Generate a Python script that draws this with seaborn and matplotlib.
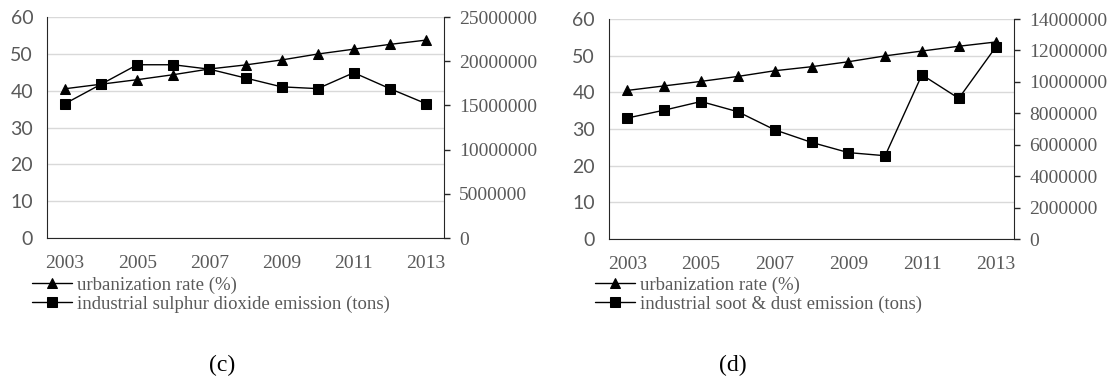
import numpy as np
import pandas as pd
import matplotlib
matplotlib.use("Agg")
import matplotlib.pyplot as plt
import seaborn as sns

# data
years = [2003, 2004, 2005, 2006, 2007, 2008, 2009, 2010, 2011, 2012, 2013]
urban_rate = [40.53, 41.76, 42.99, 44.34, 45.89, 46.99, 48.34, 49.95, 51.27, 52.57, 53.73]
so2_emission = [15.2e6, 17.4e6, 19.6e6, 19.6e6, 19.1e6, 18.1e6, 17.1e6, 16.9e6, 18.7e6, 16.9e6, 15.2e6]
soot_emission = [7.7e6, 8.2e6, 8.75e6, 8.1e6, 6.95e6, 6.15e6, 5.5e6, 5.3e6, 10.45e6, 8.95e6, 12.2e6]

panels = [
    ("industrial sulphur dioxide emission (tons)", so2_emission, 25000000, 5000000, "(c)"),
    ("industrial soot & dust emission (tons)", soot_emission, 14000000, 2000000, "(d)"),
]

sns.set_style("white")
plt.rcParams["font.family"] = ["Liberation Serif", "DejaVu Serif"]
grey = "#595959"

fig = plt.figure(figsize=(11.17, 3.85), dpi=100)
ax_boxes = [[0.0421, 0.3818, 0.3554, 0.574], [0.5452, 0.3792, 0.3626, 0.5714]]
legend_pos = [(0.029, 0.282), (0.533, 0.282)]
caption_x = [0.199, 0.656]

for i, (label, emission, ymax2, step2, caption) in enumerate(panels):
    ax = fig.add_axes(ax_boxes[i])
    ax2 = ax.twinx()
    df = pd.DataFrame({"year": years, "urban": urban_rate, "emission": emission})

    sns.lineplot(data=df, x="year", y="urban", ax=ax, color="black", marker="^",
                 markersize=7.5, linewidth=1.0, markeredgecolor="black", label="urbanization rate (%)",
                 legend=False)
    sns.lineplot(data=df, x="year", y="emission", ax=ax2, color="black", marker="s",
                 markersize=7.5, linewidth=1.0, markeredgecolor="black", label=label,
                 legend=False)

    ax.set_ylim(0, 60)
    ax.set_yticks(range(0, 61, 10))
    ax.set_xlim(2002.5, 2013.5)
    ax.set_xticks(years[::2])
    ax2.set_ylim(0, ymax2)
    ax2.set_yticks(np.arange(0, ymax2 + 1, step2))
    ax2.set_yticklabels([f"{int(v)}" for v in np.arange(0, ymax2 + 1, step2)])
    ax.set_xlabel("")
    ax.set_ylabel("")
    ax2.set_ylabel("")

    ax.grid(axis="y", color="#d9d9d9", linewidth=1.0)
    ax.set_axisbelow(True)
    for a in (ax, ax2):
        a.spines["top"].set_visible(False)
    ax.spines["right"].set_visible(False)
    ax2.spines["left"].set_visible(False)
    ax2.spines["bottom"].set_visible(False)
    ax.spines["left"].set_color("#262626")
    ax.spines["bottom"].set_color("#262626")
    ax2.spines["right"].set_color("#262626")
    ax.tick_params(axis="x", length=0, labelsize=14, labelcolor=grey, pad=12)
    ax.tick_params(axis="y", length=0, labelsize=14, labelcolor=grey, pad=10)
    for t in ax.get_yticklabels():
        t.set_family(["Lato", "DejaVu Sans"])
    ax2.tick_params(axis="y", length=4, width=1, color="#262626", labelsize=14,
                    labelcolor=grey, pad=7, right=True)

    h1, l1 = ax.get_legend_handles_labels()
    h2, l2 = ax2.get_legend_handles_labels()
    leg = fig.legend(h1 + h2, l1 + l2, loc="upper left", bbox_to_anchor=legend_pos[i],
                     frameon=False, fontsize=13.5, handlelength=2.1, handletextpad=0.3,
                     labelspacing=0.1, borderpad=0, borderaxespad=0)
    for t in leg.get_texts():
        t.set_color(grey)

    fig.text(caption_x[i], 0.052, caption, ha="center", va="center", fontsize=17,
             color="black")

fig.savefig("out.png", dpi=100)
